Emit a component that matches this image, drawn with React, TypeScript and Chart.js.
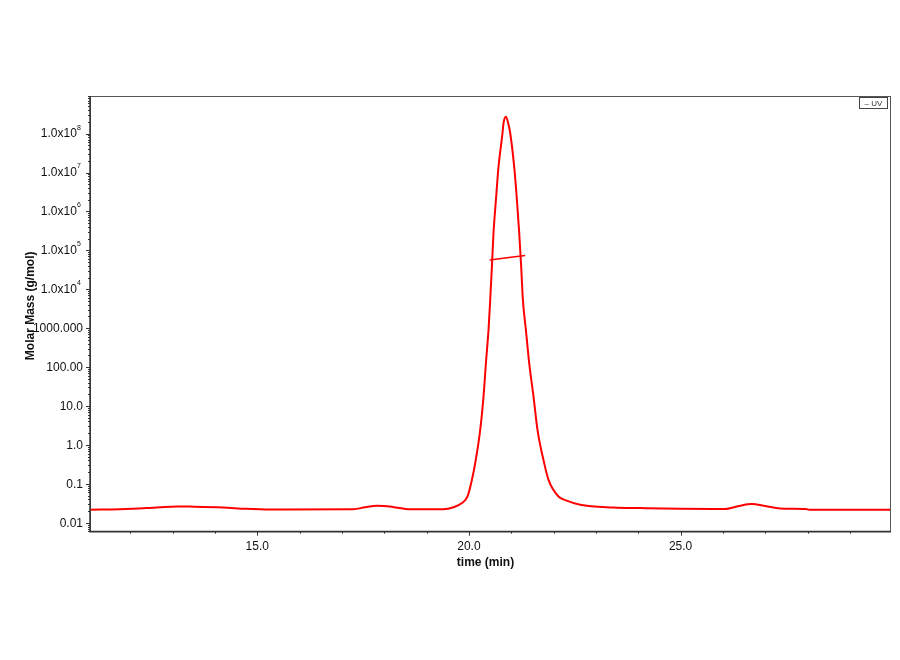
import React, { useEffect, useRef } from "react";
import { Chart, registerables } from "chart.js";

Chart.register(...registerables);

// UV trace (time in min, value on the molar-mass log axis)
const uvTime = [
  11.05, 11.76, 12.39, 12.7, 13.1, 13.41, 14.19, 14.73, 15.3, 17.27, 17.55, 17.83, 18.2, 18.61, 19.4,
  19.636, 19.835, 19.967, 20.071, 20.149, 20.267, 20.345, 20.402, 20.463, 20.503, 20.543, 20.581, 20.638,
  20.699, 20.794, 20.817, 20.874, 20.928, 20.975, 21.07, 21.134, 21.188, 21.235, 21.275, 21.346, 21.424,
  21.526, 21.62, 21.778, 21.88, 22.116, 22.31, 22.629, 23.415, 24.046, 25.0, 26.05, 26.35, 26.68, 27.0,
  27.35, 27.95, 28.05, 29.97,
];
const uvValue = [
  0.0216, 0.0222, 0.0238, 0.025, 0.0262, 0.026, 0.0248, 0.0228, 0.0218, 0.0222, 0.025, 0.0272, 0.0255,
  0.0222, 0.0222, 0.025, 0.032, 0.0473, 0.127, 0.341, 2.44, 17.5, 126, 903, 5333, 37500, 2.8e5, 1.97e6,
  1.39e7, 1.035e8, 1.84e8, 2.72e8, 1.84e8, 1.035e8, 1.39e7, 1.97e6, 2.8e5, 37500, 5333, 903, 126,
  17.5, 2.44, 0.341, 0.127, 0.0473, 0.037, 0.029, 0.0247, 0.0238, 0.0228, 0.0226, 0.0265, 0.0303, 0.027,
  0.0232, 0.0226, 0.0216, 0.0216,
];

// Molar mass across the peak
const massTime = [20.49, 20.9, 21.33];
const massValue = [56700, 64500, 73200];

const xTickValues = [15, 20, 25];
const xTickLabels = ["15.0", "20.0", "25.0"];
const yTickValues = [0.01, 0.1, 1, 10, 100, 1000, 1e4, 1e5, 1e6, 1e7, 1e8];
const yTickBase = ["0.01", "0.1", "1.0", "10.0", "100.00", "1000.000", "1.0x10", "1.0x10", "1.0x10", "1.0x10", "1.0x10"];
const yTickExp = ["", "", "", "", "", "", "4", "5", "6", "7", "8"];
const xTitle = "time (min)";
const yTitle = "Molar Mass (g/mol)";
const legendLabel = "UV";

const FONT = '"Liberation Sans", Arial, sans-serif';

const decorPlugin = {
  id: "decor",
  afterDraw(chart: any) {
    const { ctx, chartArea } = chart;
    const { left, right, top, bottom } = chartArea;
    const xs = chart.scales.x;
    const ys = chart.scales.y;
    ctx.save();

    // frame
    ctx.strokeStyle = "#555";
    ctx.lineWidth = 1;
    ctx.strokeRect(left + 0.5, top + 0.5, right - left - 1, bottom - top - 1);
    ctx.strokeStyle = "#333";
    ctx.lineWidth = 1.5;
    ctx.beginPath();
    ctx.moveTo(left, top);
    ctx.lineTo(left, bottom);
    ctx.lineTo(right, bottom);
    ctx.stroke();

    // x ticks
    ctx.lineWidth = 1;
    ctx.strokeStyle = "#333";
    for (let t = Math.ceil(xs.min); t <= xs.max; t++) {
      const px = Math.round(xs.getPixelForValue(t)) + 0.5;
      const len = t % 5 === 0 ? 4 : 2;
      ctx.beginPath();
      ctx.moveTo(px, bottom);
      ctx.lineTo(px, bottom + len);
      ctx.stroke();
    }
    // y ticks (log major + minor)
    for (let d = -3; d <= 9; d++) {
      for (let m = 1; m <= 9; m++) {
        const v = m * Math.pow(10, d);
        if (v < ys.min || v > ys.max) continue;
        const py = Math.round(ys.getPixelForValue(v)) + 0.5;
        const len = m === 1 ? 4 : 2;
        ctx.beginPath();
        ctx.moveTo(left - len, py);
        ctx.lineTo(left, py);
        ctx.stroke();
      }
    }

    // x tick labels
    ctx.fillStyle = "#111";
    ctx.font = `12px ${FONT}`;
    ctx.textAlign = "center";
    ctx.textBaseline = "middle";
    xTickValues.forEach((v, i) => {
      ctx.fillText(xTickLabels[i], xs.getPixelForValue(v), bottom + 14.5);
    });

    // y tick labels
    yTickValues.forEach((v, i) => {
      const py = ys.getPixelForValue(v) + 0.5;
      const exp = yTickExp[i];
      if (!exp) {
        ctx.font = `12px ${FONT}`;
        ctx.textAlign = "right";
        ctx.fillText(yTickBase[i], left - 7, py);
      } else {
        ctx.font = `7px ${FONT}`;
        const ew = ctx.measureText(exp).width;
        const baseRight = left - 9 - ew - 0.3;
        ctx.textAlign = "left";
        ctx.fillText(exp, baseRight + 0.3, py - 6.5);
        ctx.font = `12px ${FONT}`;
        ctx.textAlign = "right";
        ctx.fillText(yTickBase[i], baseRight, py);
      }
    });

    // axis titles
    ctx.font = `bold 12px ${FONT}`;
    ctx.textAlign = "center";
    ctx.textBaseline = "middle";
    ctx.fillText(xTitle, (left + right) / 2 - 5, bottom + 31);
    ctx.save();
    ctx.translate(31, (top + bottom) / 2 - 8);
    ctx.rotate(-Math.PI / 2);
    ctx.fillText(yTitle, 0, 0);
    ctx.restore();

    // legend box
    const bx = right - 31.5;
    const by = top + 1.5;
    ctx.strokeStyle = "#444";
    ctx.lineWidth = 1;
    ctx.strokeRect(bx, by, 28, 11);
    ctx.fillStyle = "#333";
    ctx.font = `8px ${FONT}`;
    ctx.textAlign = "center";
    ctx.fillText("\u2013 " + legendLabel, bx + 14, by + 6);

    ctx.restore();
  },
};

export default function App() {
  const canvasRef = useRef<HTMLCanvasElement | null>(null);

  useEffect(() => {
    const canvas = canvasRef.current;
    if (!canvas) return;
    const chart = new Chart(canvas, {
      type: "line",
      data: {
        datasets: [
          {
            label: legendLabel,
            data: uvTime.map((t, i) => ({ x: t, y: uvValue[i] })),
            borderColor: "#ff0000",
            borderWidth: 2,
            pointRadius: 0,
            cubicInterpolationMode: "monotone",
            fill: false,
          },
          {
            label: "Molar Mass",
            data: massTime.map((t, i) => ({ x: t, y: massValue[i] })),
            borderColor: "#ff0000",
            borderWidth: 1.5,
            pointRadius: 0,
            fill: false,
          },
        ],
      },
      options: {
        responsive: false,
        animation: false,
        devicePixelRatio: 1,
        layout: { padding: { left: 90, right: 9, top: 96, bottom: 128.3 } },
        plugins: { legend: { display: false }, tooltip: { enabled: false }, title: { display: false } },
        scales: {
          x: { type: "linear", min: 11.05, max: 29.97, display: false },
          y: { type: "logarithmic", min: Math.pow(10, -2.23), max: Math.pow(10, 8.966), display: false },
        },
      },
      plugins: [decorPlugin],
    });
    return () => chart.destroy();
  }, []);

  return (
    <div style={{ position: "absolute", left: 0, top: 0, width: 900, height: 660, background: "#fff" }}>
      <canvas ref={canvasRef} width={900} height={660} style={{ width: 900, height: 660 }} />
    </div>
  );
}
